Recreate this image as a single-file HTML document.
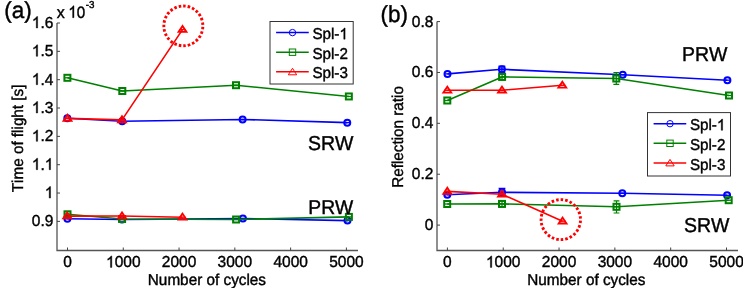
<!DOCTYPE html>
<html><head><meta charset="utf-8"><title>chart</title>
<style>html,body{margin:0;padding:0;background:#fff;width:743px;height:288px;overflow:hidden;font-family:"Liberation Sans", sans-serif;}</style>
</head><body>
<svg width="743" height="288" viewBox="0 0 743 288" style="display:block;will-change:transform">
<g font-family='"Liberation Sans", sans-serif' fill="#000" text-rendering="geometricPrecision" style="font-kerning:none">
<path d="M57,23V250.5H358" fill="none" stroke="#555" stroke-width="1.3"/>
<path d="M57,23.00h3M57,51.34h3M57,79.68h3M57,108.02h3M57,136.36h3M57,164.70h3M57,193.04h3M57,221.38h3M67.50,250.5v-3M123.28,250.5v-3M179.06,250.5v-3M234.84,250.5v-3M290.62,250.5v-3M346.40,250.5v-3" fill="none" stroke="#444" stroke-width="1.0"/>
<text transform="translate(53.40,28.00) scale(1.0,1.03)" font-size="15.5" text-anchor="end" stroke="#000" stroke-width="0.4"> .6</text>
<path transform="translate(53.40,28.00) scale(1.0,1.03) scale(0.007568,-0.007568) translate(-2847.0,0)" d="M763 0H583V1147Q518 1085 412 1023Q306 961 223 930V1104Q375 1175 489 1276Q603 1377 650 1472H763V0Z" stroke="#000" stroke-width="52.9"/>
<text transform="translate(53.40,56.34) scale(1.0,1.03)" font-size="15.5" text-anchor="end" stroke="#000" stroke-width="0.4"> .5</text>
<path transform="translate(53.40,56.34) scale(1.0,1.03) scale(0.007568,-0.007568) translate(-2847.0,0)" d="M763 0H583V1147Q518 1085 412 1023Q306 961 223 930V1104Q375 1175 489 1276Q603 1377 650 1472H763V0Z" stroke="#000" stroke-width="52.9"/>
<text transform="translate(53.40,84.68) scale(1.0,1.03)" font-size="15.5" text-anchor="end" stroke="#000" stroke-width="0.4"> .4</text>
<path transform="translate(53.40,84.68) scale(1.0,1.03) scale(0.007568,-0.007568) translate(-2847.0,0)" d="M763 0H583V1147Q518 1085 412 1023Q306 961 223 930V1104Q375 1175 489 1276Q603 1377 650 1472H763V0Z" stroke="#000" stroke-width="52.9"/>
<text transform="translate(53.40,113.02) scale(1.0,1.03)" font-size="15.5" text-anchor="end" stroke="#000" stroke-width="0.4"> .3</text>
<path transform="translate(53.40,113.02) scale(1.0,1.03) scale(0.007568,-0.007568) translate(-2847.0,0)" d="M763 0H583V1147Q518 1085 412 1023Q306 961 223 930V1104Q375 1175 489 1276Q603 1377 650 1472H763V0Z" stroke="#000" stroke-width="52.9"/>
<text transform="translate(53.40,141.36) scale(1.0,1.03)" font-size="15.5" text-anchor="end" stroke="#000" stroke-width="0.4"> .2</text>
<path transform="translate(53.40,141.36) scale(1.0,1.03) scale(0.007568,-0.007568) translate(-2847.0,0)" d="M763 0H583V1147Q518 1085 412 1023Q306 961 223 930V1104Q375 1175 489 1276Q603 1377 650 1472H763V0Z" stroke="#000" stroke-width="52.9"/>
<text transform="translate(53.40,169.70) scale(1.0,1.03)" font-size="15.5" text-anchor="end" stroke="#000" stroke-width="0.4"> . </text>
<path transform="translate(53.40,169.70) scale(1.0,1.03) scale(0.007568,-0.007568) translate(-2847.0,0)" d="M763 0H583V1147Q518 1085 412 1023Q306 961 223 930V1104Q375 1175 489 1276Q603 1377 650 1472H763V0Z" stroke="#000" stroke-width="52.9"/>
<path transform="translate(53.40,169.70) scale(1.0,1.03) scale(0.007568,-0.007568) translate(-1139.0,0)" d="M763 0H583V1147Q518 1085 412 1023Q306 961 223 930V1104Q375 1175 489 1276Q603 1377 650 1472H763V0Z" stroke="#000" stroke-width="52.9"/>
<text transform="translate(53.40,198.04) scale(1.0,1.03)" font-size="15.5" text-anchor="end" stroke="#000" stroke-width="0.4"> </text>
<path transform="translate(53.40,198.04) scale(1.0,1.03) scale(0.007568,-0.007568) translate(-1139.0,0)" d="M763 0H583V1147Q518 1085 412 1023Q306 961 223 930V1104Q375 1175 489 1276Q603 1377 650 1472H763V0Z" stroke="#000" stroke-width="52.9"/>
<text transform="translate(53.40,226.38) scale(1.0,1.03)" font-size="15.5" text-anchor="end" stroke="#000" stroke-width="0.4">0.9</text>
<text transform="translate(67.50,267.40) scale(1.0,1.03)" font-size="15.5" text-anchor="middle" stroke="#000" stroke-width="0.4">0</text>
<text transform="translate(123.28,267.40) scale(1.0,1.03)" font-size="15.5" text-anchor="middle" stroke="#000" stroke-width="0.4"> 000</text>
<path transform="translate(123.28,267.40) scale(1.0,1.03) scale(0.007568,-0.007568) translate(-2278.0,0)" d="M763 0H583V1147Q518 1085 412 1023Q306 961 223 930V1104Q375 1175 489 1276Q603 1377 650 1472H763V0Z" stroke="#000" stroke-width="52.9"/>
<text transform="translate(179.06,267.40) scale(1.0,1.03)" font-size="15.5" text-anchor="middle" stroke="#000" stroke-width="0.4">2000</text>
<text transform="translate(234.84,267.40) scale(1.0,1.03)" font-size="15.5" text-anchor="middle" stroke="#000" stroke-width="0.4">3000</text>
<text transform="translate(290.62,267.40) scale(1.0,1.03)" font-size="15.5" text-anchor="middle" stroke="#000" stroke-width="0.4">4000</text>
<text transform="translate(346.40,267.40) scale(1.0,1.03)" font-size="15.5" text-anchor="middle" stroke="#000" stroke-width="0.4">5000</text>
<text transform="translate(206.90,285.00) scale(1.0,1.03)" font-size="15.3" text-anchor="middle" stroke="#000" stroke-width="0.4">Number of cycles</text>
<text transform="translate(22.60,138.40) rotate(-90) scale(1.0,1.03)" font-size="15.25" text-anchor="middle" stroke="#000" stroke-width="0.4">Time of flight [s]</text>
<text transform="translate(4.20,18.00) scale(1.0,1.03)" font-size="22.5" text-anchor="start" stroke="#000" stroke-width="0.4">(a)</text>
<text transform="translate(56.80,17.70) scale(1.0,1.03)" font-size="16" text-anchor="start" stroke="#000" stroke-width="0.4">x</text>
<text transform="translate(85.20,17.70) scale(0.95,1.03)" font-size="16" text-anchor="end" stroke="#000" stroke-width="0.4"> 0</text>
<path transform="translate(85.20,17.70) scale(0.95,1.03) scale(0.007812,-0.007812) translate(-2278.0,0)" d="M763 0H583V1147Q518 1085 412 1023Q306 961 223 930V1104Q375 1175 489 1276Q603 1377 650 1472H763V0Z" stroke="#000" stroke-width="51.2"/>
<text transform="translate(85.80,8.00) scale(1.0,1.03)" font-size="9.8" text-anchor="start" stroke="#000" stroke-width="0.4">-3</text>
<polyline points="67.30,118.30 122.20,121.30 242.60,119.45 347.25,122.66" fill="none" stroke="#0000ff" stroke-width="1.6" stroke-linejoin="round"/>
<circle cx="67.30" cy="118.30" r="3.0" fill="none" stroke="#0000ff" stroke-width="2.0"/>
<path d="M64.20,118.30H70.40" stroke="#0000ff" stroke-width="1.3"/>
<circle cx="122.20" cy="121.30" r="3.0" fill="none" stroke="#0000ff" stroke-width="2.0"/>
<path d="M119.10,121.30H125.30" stroke="#0000ff" stroke-width="1.3"/>
<circle cx="242.60" cy="119.45" r="3.0" fill="none" stroke="#0000ff" stroke-width="2.0"/>
<path d="M239.50,119.45H245.70" stroke="#0000ff" stroke-width="1.3"/>
<circle cx="347.25" cy="122.66" r="3.0" fill="none" stroke="#0000ff" stroke-width="2.0"/>
<path d="M344.15,122.66H350.35" stroke="#0000ff" stroke-width="1.3"/>
<polyline points="67.40,218.80 122.00,219.50 242.90,218.60 347.50,220.60" fill="none" stroke="#0000ff" stroke-width="1.6" stroke-linejoin="round"/>
<circle cx="67.40" cy="218.80" r="3.0" fill="none" stroke="#0000ff" stroke-width="2.0"/>
<path d="M64.30,218.80H70.50" stroke="#0000ff" stroke-width="1.3"/>
<circle cx="122.00" cy="219.50" r="3.0" fill="none" stroke="#0000ff" stroke-width="2.0"/>
<path d="M118.90,219.50H125.10" stroke="#0000ff" stroke-width="1.3"/>
<circle cx="242.90" cy="218.60" r="3.0" fill="none" stroke="#0000ff" stroke-width="2.0"/>
<path d="M239.80,218.60H246.00" stroke="#0000ff" stroke-width="1.3"/>
<circle cx="347.50" cy="220.60" r="3.0" fill="none" stroke="#0000ff" stroke-width="2.0"/>
<path d="M344.40,220.60H350.60" stroke="#0000ff" stroke-width="1.3"/>
<polyline points="67.40,77.80 122.30,91.00 236.00,85.20 348.85,96.46" fill="none" stroke="#008000" stroke-width="1.6" stroke-linejoin="round"/>
<rect x="64.40" y="74.80" width="6.00" height="6.00" fill="none" stroke="#008000" stroke-width="2.0"/>
<path d="M64.30,77.80H70.50" stroke="#008000" stroke-width="1.3"/>
<rect x="119.30" y="88.00" width="6.00" height="6.00" fill="none" stroke="#008000" stroke-width="2.0"/>
<path d="M119.20,91.00H125.40" stroke="#008000" stroke-width="1.3"/>
<rect x="233.00" y="82.20" width="6.00" height="6.00" fill="none" stroke="#008000" stroke-width="2.0"/>
<path d="M232.90,85.20H239.10" stroke="#008000" stroke-width="1.3"/>
<rect x="345.85" y="93.46" width="6.00" height="6.00" fill="none" stroke="#008000" stroke-width="2.0"/>
<path d="M345.75,96.46H351.95" stroke="#008000" stroke-width="1.3"/>
<polyline points="67.50,214.30 122.10,219.00 236.10,219.50 348.90,216.90" fill="none" stroke="#008000" stroke-width="1.6" stroke-linejoin="round"/>
<rect x="64.50" y="211.30" width="6.00" height="6.00" fill="none" stroke="#008000" stroke-width="2.0"/>
<path d="M64.40,214.30H70.60" stroke="#008000" stroke-width="1.3"/>
<rect x="119.10" y="216.00" width="6.00" height="6.00" fill="none" stroke="#008000" stroke-width="2.0"/>
<path d="M119.00,219.00H125.20" stroke="#008000" stroke-width="1.3"/>
<rect x="233.10" y="216.50" width="6.00" height="6.00" fill="none" stroke="#008000" stroke-width="2.0"/>
<path d="M233.00,219.50H239.20" stroke="#008000" stroke-width="1.3"/>
<rect x="345.90" y="213.90" width="6.00" height="6.00" fill="none" stroke="#008000" stroke-width="2.0"/>
<path d="M345.80,216.90H352.00" stroke="#008000" stroke-width="1.3"/>
<polyline points="67.50,118.40 122.00,119.90 182.50,29.60" fill="none" stroke="#ff0000" stroke-width="1.6" stroke-linejoin="round"/>
<polygon points="67.50,114.80 63.60,120.70 71.40,120.70" fill="none" stroke="#ff0000" stroke-width="1.9" stroke-linejoin="miter"/>
<path d="M64.40,118.40H70.60" stroke="#ff0000" stroke-width="1.3"/>
<polygon points="122.00,116.30 118.10,122.20 125.90,122.20" fill="none" stroke="#ff0000" stroke-width="1.9" stroke-linejoin="miter"/>
<path d="M118.90,119.90H125.10" stroke="#ff0000" stroke-width="1.3"/>
<polygon points="182.50,26.00 178.60,31.90 186.40,31.90" fill="none" stroke="#ff0000" stroke-width="1.9" stroke-linejoin="miter"/>
<path d="M179.40,29.60H185.60" stroke="#ff0000" stroke-width="1.3"/>
<polyline points="67.20,216.10 122.00,216.00 182.50,217.20" fill="none" stroke="#ff0000" stroke-width="1.6" stroke-linejoin="round"/>
<polygon points="67.20,212.50 63.30,218.40 71.10,218.40" fill="none" stroke="#ff0000" stroke-width="1.9" stroke-linejoin="miter"/>
<path d="M64.10,216.10H70.30" stroke="#ff0000" stroke-width="1.3"/>
<polygon points="122.00,212.40 118.10,218.30 125.90,218.30" fill="none" stroke="#ff0000" stroke-width="1.9" stroke-linejoin="miter"/>
<path d="M118.90,216.00H125.10" stroke="#ff0000" stroke-width="1.3"/>
<polygon points="182.50,213.60 178.60,219.50 186.40,219.50" fill="none" stroke="#ff0000" stroke-width="1.9" stroke-linejoin="miter"/>
<path d="M179.40,217.20H185.60" stroke="#ff0000" stroke-width="1.3"/>
<ellipse cx="183.35" cy="25.9" rx="19.5" ry="19.9" pathLength="27" fill="none" stroke="#ff0000" stroke-width="2.9" stroke-dasharray="0.56 0.44" stroke-dashoffset="-0.21"/>
<rect x="270" y="21.5" width="83.2" height="62.5" fill="#fff" stroke="#333" stroke-width="1"/>
<path d="M276.1,32.60H308.75" stroke="#0000ff" stroke-width="1.5"/>
<circle cx="292.50" cy="32.60" r="3.2" fill="none" stroke="#0000ff" stroke-width="1.0"/>
<text transform="translate(312.40,39.20) scale(1.0,1.03)" font-size="15.2" text-anchor="start" stroke="#000" stroke-width="0.4">Spl- </text>
<path transform="translate(312.40,39.20) scale(1.0,1.03) scale(0.007422,-0.007422) translate(3642.0,0)" d="M763 0H583V1147Q518 1085 412 1023Q306 961 223 930V1104Q375 1175 489 1276Q603 1377 650 1472H763V0Z" stroke="#000" stroke-width="53.9"/>
<path d="M276.1,52.20H308.75" stroke="#008000" stroke-width="1.5"/>
<rect x="289.30" y="49.00" width="6.40" height="6.40" fill="none" stroke="#008000" stroke-width="1.0"/>
<text transform="translate(312.40,58.80) scale(1.0,1.03)" font-size="15.2" text-anchor="start" stroke="#000" stroke-width="0.4">Spl-2</text>
<path d="M276.1,71.80H308.75" stroke="#ff0000" stroke-width="1.5"/>
<polygon points="292.50,68.30 288.30,74.80 296.70,74.80" fill="none" stroke="#ff0000" stroke-width="1.0" stroke-linejoin="miter"/>
<text transform="translate(312.40,78.40) scale(1.0,1.03)" font-size="15.2" text-anchor="start" stroke="#000" stroke-width="0.4">Spl-3</text>
<text transform="translate(307.90,149.80) scale(1.0,1.03)" font-size="19.5" text-anchor="start" stroke="#000" stroke-width="0.4">SRW</text>
<text transform="translate(308.30,214.00) scale(1.0,1.03)" font-size="19.3" text-anchor="start" stroke="#000" stroke-width="0.4">PRW</text>
<path d="M437,21.5V250.5H738" fill="none" stroke="#555" stroke-width="1.3"/>
<path d="M437,21.58h3M437,72.46h3M437,123.34h3M437,174.22h3M437,225.10h3M447.40,250.5v-3M503.22,250.5v-3M559.04,250.5v-3M614.86,250.5v-3M670.68,250.5v-3M726.50,250.5v-3" fill="none" stroke="#444" stroke-width="1.0"/>
<text transform="translate(433.40,26.58) scale(1.0,1.03)" font-size="15.5" text-anchor="end" stroke="#000" stroke-width="0.4">0.8</text>
<text transform="translate(433.40,77.46) scale(1.0,1.03)" font-size="15.5" text-anchor="end" stroke="#000" stroke-width="0.4">0.6</text>
<text transform="translate(433.40,128.34) scale(1.0,1.03)" font-size="15.5" text-anchor="end" stroke="#000" stroke-width="0.4">0.4</text>
<text transform="translate(433.40,179.22) scale(1.0,1.03)" font-size="15.5" text-anchor="end" stroke="#000" stroke-width="0.4">0.2</text>
<text transform="translate(433.40,230.10) scale(1.0,1.03)" font-size="15.5" text-anchor="end" stroke="#000" stroke-width="0.4">0</text>
<text transform="translate(447.40,267.40) scale(1.0,1.03)" font-size="15.5" text-anchor="middle" stroke="#000" stroke-width="0.4">0</text>
<text transform="translate(503.22,267.40) scale(1.0,1.03)" font-size="15.5" text-anchor="middle" stroke="#000" stroke-width="0.4"> 000</text>
<path transform="translate(503.22,267.40) scale(1.0,1.03) scale(0.007568,-0.007568) translate(-2278.0,0)" d="M763 0H583V1147Q518 1085 412 1023Q306 961 223 930V1104Q375 1175 489 1276Q603 1377 650 1472H763V0Z" stroke="#000" stroke-width="52.9"/>
<text transform="translate(559.04,267.40) scale(1.0,1.03)" font-size="15.5" text-anchor="middle" stroke="#000" stroke-width="0.4">2000</text>
<text transform="translate(614.86,267.40) scale(1.0,1.03)" font-size="15.5" text-anchor="middle" stroke="#000" stroke-width="0.4">3000</text>
<text transform="translate(670.68,267.40) scale(1.0,1.03)" font-size="15.5" text-anchor="middle" stroke="#000" stroke-width="0.4">4000</text>
<text transform="translate(726.50,267.40) scale(1.0,1.03)" font-size="15.5" text-anchor="middle" stroke="#000" stroke-width="0.4">5000</text>
<text transform="translate(586.30,284.80) scale(1.0,1.03)" font-size="15.3" text-anchor="middle" stroke="#000" stroke-width="0.4">Number of cycles</text>
<text transform="translate(402.90,136.90) rotate(-90) scale(1.0,1.03)" font-size="15.25" text-anchor="middle" stroke="#000" stroke-width="0.4">Reflection ratio</text>
<text transform="translate(380.40,22.40) scale(1.0,1.03)" font-size="22.5" text-anchor="start" stroke="#000" stroke-width="0.4">(b)</text>
<polyline points="447.50,73.90 501.90,69.30 622.75,74.75 727.40,80.20" fill="none" stroke="#0000ff" stroke-width="1.6" stroke-linejoin="round"/>
<circle cx="447.50" cy="73.90" r="3.0" fill="none" stroke="#0000ff" stroke-width="2.0"/>
<path d="M444.40,73.90H450.60" stroke="#0000ff" stroke-width="1.3"/>
<circle cx="501.90" cy="69.30" r="3.0" fill="none" stroke="#0000ff" stroke-width="2.0"/>
<path d="M498.80,69.30H505.00" stroke="#0000ff" stroke-width="1.3"/>
<circle cx="622.75" cy="74.75" r="3.0" fill="none" stroke="#0000ff" stroke-width="2.0"/>
<path d="M619.65,74.75H625.85" stroke="#0000ff" stroke-width="1.3"/>
<circle cx="727.40" cy="80.20" r="3.0" fill="none" stroke="#0000ff" stroke-width="2.0"/>
<path d="M724.30,80.20H730.50" stroke="#0000ff" stroke-width="1.3"/>
<polyline points="447.30,194.80 502.00,192.30 622.30,193.20 727.10,195.30" fill="none" stroke="#0000ff" stroke-width="1.6" stroke-linejoin="round"/>
<circle cx="447.30" cy="194.80" r="3.0" fill="none" stroke="#0000ff" stroke-width="2.0"/>
<path d="M444.20,194.80H450.40" stroke="#0000ff" stroke-width="1.3"/>
<circle cx="502.00" cy="192.30" r="3.0" fill="none" stroke="#0000ff" stroke-width="2.0"/>
<path d="M498.90,192.30H505.10" stroke="#0000ff" stroke-width="1.3"/>
<circle cx="622.30" cy="193.20" r="3.0" fill="none" stroke="#0000ff" stroke-width="2.0"/>
<path d="M619.20,193.20H625.40" stroke="#0000ff" stroke-width="1.3"/>
<circle cx="727.10" cy="195.30" r="3.0" fill="none" stroke="#0000ff" stroke-width="2.0"/>
<path d="M724.00,195.30H730.20" stroke="#0000ff" stroke-width="1.3"/>
<path d="M501.90,66.30V72.40M498.50,66.30H505.30M498.50,72.40H505.30" fill="none" stroke="#0000ff" stroke-width="1.4"/>
<path d="M502.00,188.50V196.10M498.60,188.50H505.40M498.60,196.10H505.40" fill="none" stroke="#0000ff" stroke-width="1.4"/>
<polyline points="447.30,100.50 502.10,76.90 616.30,78.50 729.00,95.50" fill="none" stroke="#008000" stroke-width="1.6" stroke-linejoin="round"/>
<rect x="444.30" y="97.50" width="6.00" height="6.00" fill="none" stroke="#008000" stroke-width="2.0"/>
<path d="M444.20,100.50H450.40" stroke="#008000" stroke-width="1.3"/>
<rect x="499.10" y="73.90" width="6.00" height="6.00" fill="none" stroke="#008000" stroke-width="2.0"/>
<path d="M499.00,76.90H505.20" stroke="#008000" stroke-width="1.3"/>
<rect x="613.30" y="75.50" width="6.00" height="6.00" fill="none" stroke="#008000" stroke-width="2.0"/>
<path d="M613.20,78.50H619.40" stroke="#008000" stroke-width="1.3"/>
<rect x="726.00" y="92.50" width="6.00" height="6.00" fill="none" stroke="#008000" stroke-width="2.0"/>
<path d="M725.90,95.50H732.10" stroke="#008000" stroke-width="1.3"/>
<polyline points="447.20,204.00 502.00,203.90 616.50,206.80 728.70,200.20" fill="none" stroke="#008000" stroke-width="1.6" stroke-linejoin="round"/>
<rect x="444.20" y="201.00" width="6.00" height="6.00" fill="none" stroke="#008000" stroke-width="2.0"/>
<path d="M444.10,204.00H450.30" stroke="#008000" stroke-width="1.3"/>
<rect x="499.00" y="200.90" width="6.00" height="6.00" fill="none" stroke="#008000" stroke-width="2.0"/>
<path d="M498.90,203.90H505.10" stroke="#008000" stroke-width="1.3"/>
<rect x="613.50" y="203.80" width="6.00" height="6.00" fill="none" stroke="#008000" stroke-width="2.0"/>
<path d="M613.40,206.80H619.60" stroke="#008000" stroke-width="1.3"/>
<rect x="725.70" y="197.20" width="6.00" height="6.00" fill="none" stroke="#008000" stroke-width="2.0"/>
<path d="M725.60,200.20H731.80" stroke="#008000" stroke-width="1.3"/>
<path d="M616.30,72.70V84.40M613.40,72.70H619.20M613.40,84.40H619.20" fill="none" stroke="#008000" stroke-width="1.2"/>
<path d="M502.10,74.00V79.80M499.10,74.00H505.10M499.10,79.80H505.10" fill="none" stroke="#008000" stroke-width="1.2"/>
<path d="M502.00,201.00V206.80M499.00,201.00H505.00M499.00,206.80H505.00" fill="none" stroke="#008000" stroke-width="1.2"/>
<path d="M616.50,200.90V213.00M613.60,200.90H619.40M613.60,213.00H619.40" fill="none" stroke="#008000" stroke-width="1.2"/>
<polyline points="447.30,90.30 502.00,90.20 562.30,85.30" fill="none" stroke="#ff0000" stroke-width="1.6" stroke-linejoin="round"/>
<polygon points="447.30,86.70 443.40,92.60 451.20,92.60" fill="none" stroke="#ff0000" stroke-width="1.9" stroke-linejoin="miter"/>
<path d="M444.20,90.30H450.40" stroke="#ff0000" stroke-width="1.3"/>
<polygon points="502.00,86.60 498.10,92.50 505.90,92.50" fill="none" stroke="#ff0000" stroke-width="1.9" stroke-linejoin="miter"/>
<path d="M498.90,90.20H505.10" stroke="#ff0000" stroke-width="1.3"/>
<polygon points="562.30,81.70 558.40,87.60 566.20,87.60" fill="none" stroke="#ff0000" stroke-width="1.9" stroke-linejoin="miter"/>
<path d="M559.20,85.30H565.40" stroke="#ff0000" stroke-width="1.3"/>
<polyline points="447.30,191.40 502.00,194.20 562.60,221.20" fill="none" stroke="#ff0000" stroke-width="1.6" stroke-linejoin="round"/>
<polygon points="447.30,187.80 443.40,193.70 451.20,193.70" fill="none" stroke="#ff0000" stroke-width="1.9" stroke-linejoin="miter"/>
<path d="M444.20,191.40H450.40" stroke="#ff0000" stroke-width="1.3"/>
<polygon points="502.00,190.60 498.10,196.50 505.90,196.50" fill="none" stroke="#ff0000" stroke-width="1.9" stroke-linejoin="miter"/>
<path d="M498.90,194.20H505.10" stroke="#ff0000" stroke-width="1.3"/>
<polygon points="562.60,217.60 558.70,223.50 566.50,223.50" fill="none" stroke="#ff0000" stroke-width="1.9" stroke-linejoin="miter"/>
<path d="M559.50,221.20H565.70" stroke="#ff0000" stroke-width="1.3"/>
<ellipse cx="560.8" cy="219.65" rx="19.7" ry="20.0" pathLength="27" fill="none" stroke="#ff0000" stroke-width="2.9" stroke-dasharray="0.56 0.44" stroke-dashoffset="-0.21"/>
<rect x="647.5" y="112.6" width="83.0" height="63.4" fill="#fff" stroke="#333" stroke-width="1"/>
<path d="M653.6,123.70H686.25" stroke="#0000ff" stroke-width="1.5"/>
<circle cx="670.00" cy="123.70" r="3.2" fill="none" stroke="#0000ff" stroke-width="1.0"/>
<text transform="translate(689.90,130.30) scale(1.0,1.03)" font-size="15.2" text-anchor="start" stroke="#000" stroke-width="0.4">Spl- </text>
<path transform="translate(689.90,130.30) scale(1.0,1.03) scale(0.007422,-0.007422) translate(3642.0,0)" d="M763 0H583V1147Q518 1085 412 1023Q306 961 223 930V1104Q375 1175 489 1276Q603 1377 650 1472H763V0Z" stroke="#000" stroke-width="53.9"/>
<path d="M653.6,143.30H686.25" stroke="#008000" stroke-width="1.5"/>
<rect x="666.80" y="140.10" width="6.40" height="6.40" fill="none" stroke="#008000" stroke-width="1.0"/>
<text transform="translate(689.90,149.90) scale(1.0,1.03)" font-size="15.2" text-anchor="start" stroke="#000" stroke-width="0.4">Spl-2</text>
<path d="M653.6,162.90H686.25" stroke="#ff0000" stroke-width="1.5"/>
<polygon points="670.00,159.40 665.80,165.90 674.20,165.90" fill="none" stroke="#ff0000" stroke-width="1.0" stroke-linejoin="miter"/>
<text transform="translate(689.90,169.50) scale(1.0,1.03)" font-size="15.2" text-anchor="start" stroke="#000" stroke-width="0.4">Spl-3</text>
<text transform="translate(682.00,60.80) scale(1.0,1.03)" font-size="19.5" text-anchor="start" stroke="#000" stroke-width="0.4">PRW</text>
<text transform="translate(683.90,232.20) scale(1.0,1.03)" font-size="19.5" text-anchor="start" stroke="#000" stroke-width="0.4">SRW</text>
</g></svg>
</body></html>
